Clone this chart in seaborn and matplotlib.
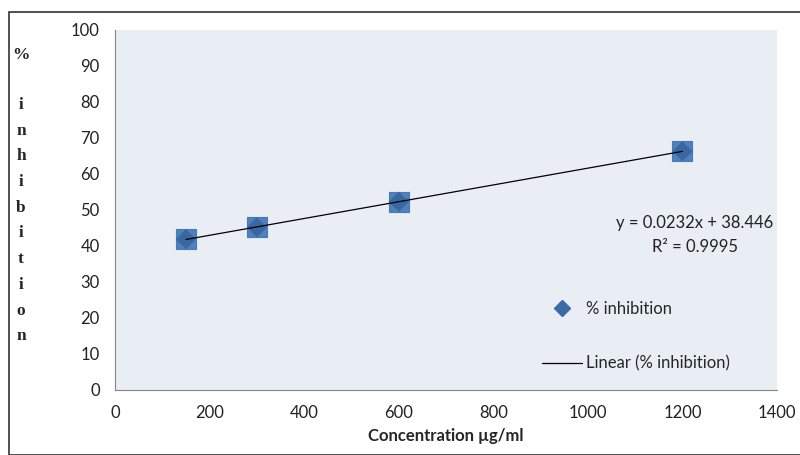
import numpy as np
import pandas as pd
import matplotlib
matplotlib.use("Agg")
import matplotlib.pyplot as plt
import seaborn as sns
from matplotlib.lines import Line2D
from matplotlib.patches import Rectangle

concentration = [150, 300, 600, 1200]
inhibition = [41.9, 45.2, 52.3, 66.3]
x_ticks = [0, 200, 400, 600, 800, 1000, 1200, 1400]
y_ticks = [0, 10, 20, 30, 40, 50, 60, 70, 80, 90, 100]
ylabel_letters = ["%", "i", "n", "h", "i", "b", "i", "t", "i", "o", "n"]
equation_text = "y = 0.0232x + 38.446"
r2_text = "R² = 0.9995"

sns.set_style("white")
plt.rcParams['font.family'] = ['Lato', 'DejaVu Sans']

df = pd.DataFrame({"conc": concentration, "inh": inhibition})
slope, intercept = np.polyfit(df["conc"], df["inh"], 1)
fit = pd.DataFrame({"conc": [min(concentration), max(concentration)]})
fit["inh"] = slope * fit["conc"] + intercept

fig = plt.figure(figsize=(8, 4.55), dpi=100)
ax = fig.add_axes([115/800, 65/455, 662/800, 360/455])
ax.set_facecolor("#E9EDF4")

sns.scatterplot(data=df, x="conc", y="inh", marker="s", s=200, color="#4F81BD",
                edgecolor="#4A7AB5", linewidth=0.8, ax=ax, zorder=3, legend=False)
sns.scatterplot(data=df, x="conc", y="inh", marker="D", s=105, color="#3A67A2",
                edgecolor="none", ax=ax, zorder=4, legend=False)
sns.lineplot(data=fit, x="conc", y="inh", color="black", linewidth=0.9, ax=ax, zorder=5)

ax.set_xlim(0, 1400)
ax.set_ylim(0, 100)
ax.set_xticks(x_ticks)
ax.set_yticks(y_ticks)
ax.tick_params(axis="both", direction="out", length=5, width=0.8, color="#868686",
               labelsize=12, labelcolor="#222222", pad=6)
for side in ["top", "right"]:
    ax.spines[side].set_visible(False)
for side in ["left", "bottom"]:
    ax.spines[side].set_color("#868686")
    ax.spines[side].set_linewidth(0.8)
ax.set_xlabel("Concentration µg/ml", fontsize=12, fontweight="bold", labelpad=5)
ax.set_ylabel("")

for i, ch in enumerate(ylabel_letters):
    ypix = 55 if i == 0 else 105 + (i - 1) * 25.7
    fig.text(21/800, 1 - ypix/455, ch, ha="center", va="center", fontsize=12.5,
             fontweight="bold", family=["Liberation Serif", "DejaVu Serif"])

ax.text(0.876, 0.465, equation_text, transform=ax.transAxes,
        ha="center", va="center", fontsize=12, color="#222222")
ax.text(0.876, 0.397, r2_text, transform=ax.transAxes,
        ha="center", va="center", fontsize=12, color="#222222")

handles = [Line2D([], [], marker="D", linestyle="none", color="#3C6AA6", markersize=8),
           Line2D([], [], color="black", linewidth=0.9)]
ax.legend(handles, ["% inhibition", "Linear (% inhibition)"], loc="upper left",
          bbox_to_anchor=(0.622, 0.288), frameon=False, fontsize=12, labelspacing=2.3,
          handlelength=2.4, handletextpad=0.25)

fig.add_artist(Rectangle((8.5/800, 0), 1.0, 1 - 12/455, transform=fig.transFigure,
                         fill=False, edgecolor="#333333", linewidth=1.2))

fig.savefig("out.png", dpi=100)
